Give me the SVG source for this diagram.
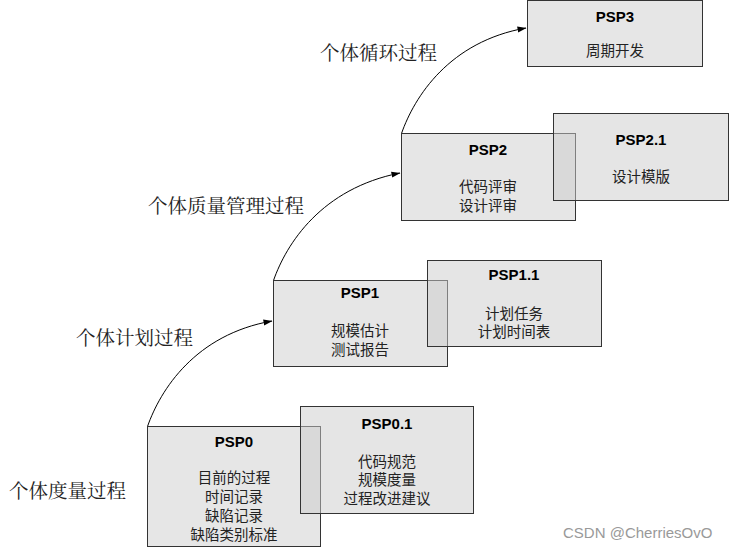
<svg xmlns="http://www.w3.org/2000/svg" width="730" height="549" viewBox="0 0 730 549">
<style>
.box{fill:#e6e6e6;stroke:#333;stroke-width:1}
.ov{fill:#cccccc;fill-opacity:0.5;stroke:#333;stroke-width:1}
.t{font-family:"Liberation Sans",Arial,sans-serif;font-weight:bold;font-size:15px;fill:#000;text-anchor:middle}
.c{font-family:"Liberation Sans","Noto Sans CJK SC",sans-serif;font-size:14.5px;fill:#222;text-anchor:middle}
.lab{font-family:"Noto Serif CJK SC","Liberation Serif","Noto Sans CJK SC",serif;font-size:19.5px;fill:#222}
.con{fill:none;stroke:#000;stroke-width:1;marker-end:url(#ah)}
.wm{font-family:"Liberation Sans",Arial,sans-serif;font-size:15px;fill:#999}
</style>
<defs>
<marker id="ah" markerWidth="9" markerHeight="7" refX="8.5" refY="3.5" orient="auto" markerUnits="userSpaceOnUse">
<path d="M0,0.5 L9,3.5 L0,6.5 Z" fill="#000"/>
</marker>
</defs>
<rect width="730" height="549" fill="#fff"/>

<g id="connectors">
<path class="con" d="M147.5,426.5 C160.5,389.5 195.5,334.5 272,321"/>
<path class="con" d="M273.5,280.5 C286.5,243.5 321.5,188.5 400,173"/>
<path class="con" d="M401.5,133.5 C414.5,96.5 449.5,41.5 526,28"/>
</g>

<g id="labels">
<text class="lab" x="320" y="60">个体循环过程</text>
<text class="lab" x="148" y="213">个体质量管理过程</text>
<text class="lab" x="76" y="345">个体计划过程</text>
<text class="lab" x="9" y="498">个体度量过程</text>
</g>

<g id="psp0">
<rect class="box" x="147.5" y="426.5" width="173" height="120"/>
<text class="t" x="234" y="447">PSP0</text>
<text class="c" x="234" y="483">目前的过程</text>
<text class="c" x="234" y="502">时间记录</text>
<text class="c" x="234" y="521">缺陷记录</text>
<text class="c" x="234" y="540">缺陷类别标准</text>
</g>
<g id="psp01">
<rect class="ov" x="300.5" y="406.5" width="173" height="107"/>
<text class="t" x="387" y="429">PSP0.1</text>
<text class="c" x="387" y="467">代码规范</text>
<text class="c" x="387" y="485">规模度量</text>
<text class="c" x="387" y="504">过程改进建议</text>
</g>

<g id="psp1">
<rect class="box" x="273.5" y="280.5" width="174" height="86"/>
<text class="t" x="360" y="298">PSP1</text>
<text class="c" x="360" y="336">规模估计</text>
<text class="c" x="360" y="355">测试报告</text>
</g>
<g id="psp11">
<rect class="ov" x="427.5" y="260.5" width="174" height="86"/>
<text class="t" x="514" y="280">PSP1.1</text>
<text class="c" x="514" y="319">计划任务</text>
<text class="c" x="514" y="337">计划时间表</text>
</g>

<g id="psp2">
<rect class="box" x="401.5" y="133.5" width="174" height="87"/>
<text class="t" x="488" y="155">PSP2</text>
<text class="c" x="488" y="192">代码评审</text>
<text class="c" x="488" y="211">设计评审</text>
</g>
<g id="psp21">
<rect class="ov" x="553.5" y="113.5" width="175" height="87"/>
<text class="t" x="641" y="145">PSP2.1</text>
<text class="c" x="641" y="182">设计模版</text>
</g>

<g id="psp3">
<rect class="box" x="527.5" y="0.5" width="175" height="66"/>
<text class="t" x="615" y="22">PSP3</text>
<text class="c" x="615" y="56">周期开发</text>
</g>

<text class="wm" x="563" y="538">CSDN @CherriesOvO</text>
</svg>
